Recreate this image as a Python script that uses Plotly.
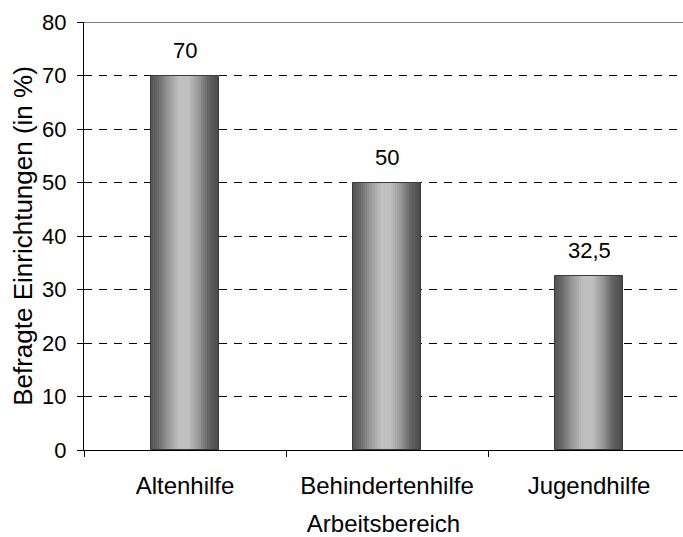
import plotly.graph_objects as go
import numpy as np

# Share of surveyed institutions per field of work
categories = ["Altenhilfe", "Behindertenhilfe", "Jugendhilfe"]
values = [70, 50, 32.5]
value_labels = ["70", "50", "32,5"]
y_ticks = [0, 10, 20, 30, 40, 50, 60, 70, 80]

BAR_WIDTH = 0.337
N_STRIPES = 34
FONT = "Liberation Sans, Arial, sans-serif"

# Horizontal shading profile of a cylinder-like bar (position -> grey level)
stops_t = [0.0, 0.10, 0.25, 0.42, 0.55, 0.70, 0.85, 1.0]
stops_g = [84, 104, 152, 192, 192, 152, 98, 72]

fig = go.Figure()

w = BAR_WIDTH / N_STRIPES
for i in range(N_STRIPES):
    t = (i + 0.5) / N_STRIPES
    g = int(round(np.interp(t, stops_t, stops_g)))
    fig.add_trace(go.Bar(
        x=categories, y=values,
        width=w * 1.15,
        offset=-BAR_WIDTH / 2 + i * w,
        marker=dict(color=f"rgb({g},{g},{g})", line=dict(width=0)),
        showlegend=False, hoverinfo="skip",
    ))

# Thin outline around each bar
fig.add_trace(go.Bar(
    x=categories, y=values, width=BAR_WIDTH,
    marker=dict(color="rgba(0,0,0,0)", line=dict(color="#3a3a3a", width=1)),
    showlegend=False, hoverinfo="skip",
))

for c, v, lab in zip(categories, values, value_labels):
    fig.add_annotation(x=c, y=v, text=lab, showarrow=False,
                       yanchor="bottom", yshift=11,
                       font=dict(family=FONT, size=22, color="black"))

# Top frame line at the axis maximum
fig.add_shape(type="line", xref="paper", x0=0, x1=1, yref="y",
              y0=y_ticks[-1], y1=y_ticks[-1], line=dict(color="black", width=1))

fig.update_layout(
    width=683, height=537,
    margin=dict(l=84, r=0, t=22, b=87),
    paper_bgcolor="white", plot_bgcolor="white",
    barmode="overlay", bargap=0,
    font=dict(family=FONT, size=22, color="black"),
    xaxis=dict(
        type="category",
        range=[-0.5, 2.5 - 7 / 202],
        tickson="boundaries",
        ticks="outside", ticklen=6, tickcolor="black",
        showline=True, linecolor="black", linewidth=1,
        showgrid=False,
        ticklabelstandoff=14,
        tickfont=dict(family=FONT, size=24),
        title=dict(text="Arbeitsbereich", font=dict(family=FONT, size=24), standoff=18),
    ),
    yaxis=dict(
        range=[0, 80], tickvals=y_ticks,
        ticks="outside", ticklen=6, tickcolor="black",
        showline=True, linecolor="black", linewidth=1,
        showgrid=True, gridcolor="black", gridwidth=1, griddash="8px,7px",
        zeroline=False,
        ticklabelstandoff=6,
        tickfont=dict(family=FONT, size=22),
        title=dict(text="Befragte Einrichtungen (in %)", font=dict(family=FONT, size=26), standoff=2),
    ),
)

fig.write_html("out.html")
